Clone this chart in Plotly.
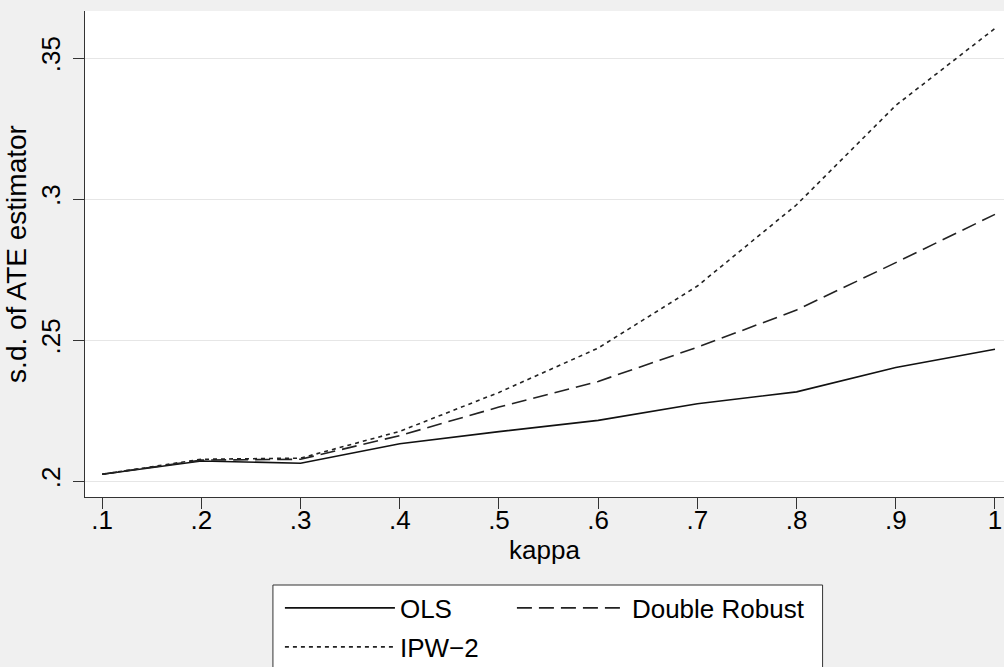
import plotly.graph_objects as go

kappa = [0.1, 0.2, 0.3, 0.4, 0.5, 0.6, 0.7, 0.8, 0.9, 1.0]
ols = [0.2025, 0.2072, 0.2064, 0.2133, 0.2176, 0.2216, 0.2275, 0.2317, 0.2403, 0.2468]
double_robust = [0.2025, 0.2075, 0.2078, 0.2162, 0.2263, 0.2354, 0.2475, 0.2607, 0.2775, 0.2946]
ipw2 = [0.2025, 0.2078, 0.2082, 0.2177, 0.2315, 0.2472, 0.2692, 0.2980, 0.3332, 0.3605]

x_tickvals = [0.1, 0.2, 0.3, 0.4, 0.5, 0.6, 0.7, 0.8, 0.9, 1.0]
x_ticktext = [".1", ".2", ".3", ".4", ".5", ".6", ".7", ".8", ".9", "1"]
y_tickvals = [0.2, 0.25, 0.3, 0.35]
y_ticktext = [".2", ".25", ".3", ".35"]

FONT = "Liberation Sans, Arial, sans-serif"
FS = 26

fig = go.Figure()
fig.add_trace(go.Scatter(x=kappa, y=ols, mode="lines", name="OLS", legend="legend",
                         legendwidth=107,
                         line=dict(color="#111111", width=1.6, dash="solid")))
fig.add_trace(go.Scatter(x=kappa, y=double_robust, mode="lines", name="Double Robust",
                         legend="legend",
                         line=dict(color="#222222", width=1.6, dash="15px,7px")))
fig.add_trace(go.Scatter(x=kappa, y=ipw2, mode="lines", name="IPW\u22122", legend="legend2",
                         line=dict(color="#222222", width=1.6, dash="4px,4px")))

leg_common = dict(
    orientation="h", xanchor="left", yanchor="middle",
    bgcolor="rgba(0,0,0,0)", borderwidth=0,
    font=dict(family=FONT, size=FS, color="#000000"),
    itemwidth=110, traceorder="normal",
)

fig.update_layout(
    width=1004, height=667,
    margin=dict(l=85, r=0, t=11, b=170, autoexpand=False),
    paper_bgcolor="#f0f0f0",
    plot_bgcolor="#ffffff",
    font=dict(family=FONT, size=FS, color="#000000"),
    showlegend=True,
    legend=dict(x=0.2121, y=-0.2284, **leg_common),
    legend2=dict(x=0.2121, y=-0.3086, **leg_common),
    shapes=[dict(type="rect", xref="paper", yref="paper",
                 x0=0.2045, x1=0.8026, y0=-0.40, y1=-0.1811,
                 line=dict(color="#333333", width=1), fillcolor="#ffffff",
                 layer="above")],
)

fig.update_xaxes(
    range=[0.0827, 1.0091],
    tickvals=x_tickvals, ticktext=x_ticktext,
    ticks="outside", ticklen=11, tickcolor="#333333", tickwidth=1,
    ticklabelstandoff=-11,
    showline=True, linecolor="#333333", linewidth=1,
    showgrid=False, zeroline=False,
    title=dict(text="kappa", font=dict(size=FS), standoff=0),
    tickfont=dict(size=FS),
)
fig.update_yaxes(
    range=[0.19443, 0.36667],
    tickvals=y_tickvals, ticktext=y_ticktext,
    ticks="outside", ticklen=11, tickcolor="#333333", tickwidth=1,
    tickangle=-90, ticklabelstandoff=3,
    showline=True, linecolor="#333333", linewidth=1,
    showgrid=True, gridcolor="#e6e6e6", gridwidth=1,
    zeroline=False,
    title=dict(text="s.d. of ATE estimator", font=dict(size=28), standoff=0),
    tickfont=dict(size=FS),
)

fig.write_html("out.html", config={"displayModeBar": False},
               post_script="document.body.style.margin='0';")
